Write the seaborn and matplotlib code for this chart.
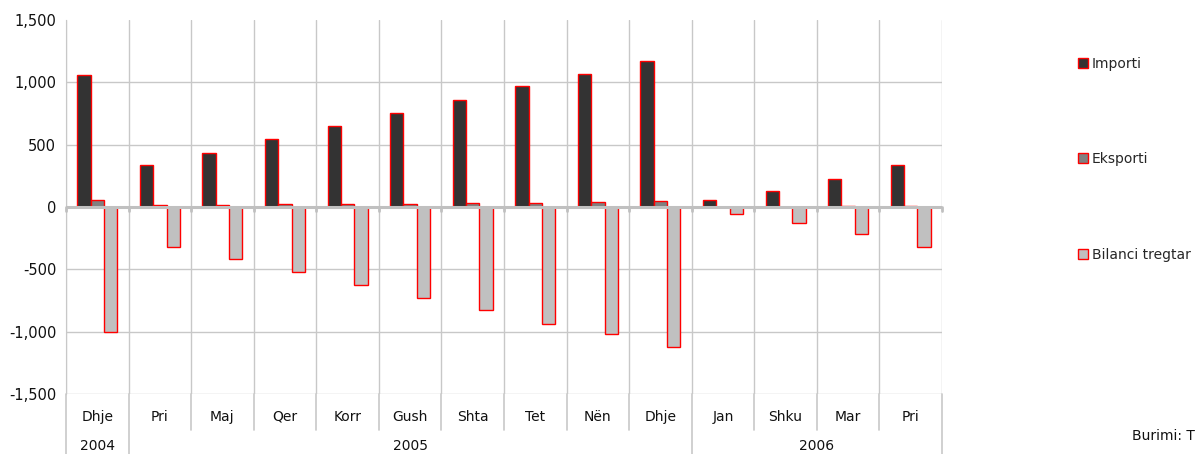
import pandas as pd
import seaborn as sns
import matplotlib.pyplot as plt
from matplotlib.patches import Patch
from matplotlib.ticker import FuncFormatter
import matplotlib.transforms as mtransforms

months = ["Dhje", "Pri", "Maj", "Qer", "Korr", "Gush", "Shta", "Tet", "Nën", "Dhje",
          "Jan", "Shku", "Mar", "Pri"]
years = ["2004", "2005", "2006"]
year_spans = [(0, 0), (1, 9), (10, 13)]
importi = [1061, 335, 437, 542, 651, 755, 859, 973, 1064, 1171, 54, 125, 224, 335]
eksporti = [54, 14, 20, 22, 27, 28, 32, 36, 43, 45, 3, 4, 8, 12]
bilanci = [-1004, -322, -420, -519, -626, -727, -825, -937, -1020, -1126, -58, -128, -218, -320]
series = ["Importi", "Eksporti", "Bilanci tregtar"]
colors = ["#333333", "#808080", "#c0c0c0"]

rows = []
for i in range(len(months)):
    for name, vals in zip(series, [importi, eksporti, bilanci]):
        rows.append({"pos": i, "serie": name, "vlera": vals[i]})
df = pd.DataFrame(rows)

sns.set_style("white")
plt.rcParams["font.family"] = ["DejaVu Sans"]

fig = plt.figure(figsize=(12, 4.54), dpi=100)
ax = fig.add_axes([66 / 1200, 60 / 454, 876 / 1200, 374 / 454])

sns.barplot(data=df, x="pos", y="vlera", hue="serie", hue_order=series,
            palette=colors, width=0.64, gap=0, edgecolor="red", linewidth=1,
            saturation=1, ax=ax, legend=False, zorder=3)

ax.set_xlim(-0.5, len(months) - 0.5)
ax.set_ylim(-1500, 1500)
ax.set_yticks(range(-1500, 1501, 500))
ax.yaxis.set_major_formatter(FuncFormatter(lambda v, p: f"{int(v):,}"))
ax.tick_params(axis="y", labelsize=10.5, length=5, color="#bbbbbb", colors="#111111", pad=2)
ax.set_xticks([])
ax.set_xlabel("")
ax.set_ylabel("")

for s in ["top", "right", "bottom"]:
    ax.spines[s].set_visible(False)
ax.spines["left"].set_color("#c8c8c8")

grid = "#c8c8c8"
for y in range(-1500, 1001, 500):
    if y != 0:
        ax.axhline(y, color=grid, lw=1, zorder=1)
for b in range(len(months) + 1):
    ax.axvline(b - 0.5, color=grid, lw=1, zorder=1)
ax.axhline(0, color="#c0c0c0", lw=2.2, zorder=4)

trans = mtransforms.blended_transform_factory(ax.transData, ax.transAxes)
# small ticks on the zero line
for b in range(len(months) + 1):
    ax.plot([b - 0.5, b - 0.5], [0.5, 0.488], transform=trans, color="#c0c0c0",
            lw=2, clip_on=False, zorder=4)

# category axis below the plot
year_edges = {-0.5, 0.5, 9.5, 13.5}
for b in range(len(months) + 1):
    x = b - 0.5
    y1 = -60 / 374 if x in year_edges else -36 / 374
    ax.plot([x, x], [0, y1], transform=trans, color="#c8c8c8", lw=1.2, clip_on=False)
for i, m in enumerate(months):
    ax.text(i, -23 / 374, m, transform=trans, ha="center", va="center", fontsize=10,
            color="#111111")
for yr, (a, b) in zip(years, year_spans):
    ax.text((a + b) / 2, -52 / 374, yr, transform=trans, ha="center", va="center",
            fontsize=10, color="#111111")

handles = [Patch(facecolor=c, edgecolor="red", lw=1) for c in colors]
fig.legend(handles, series, loc="upper left", bbox_to_anchor=(1078 / 1200, 1 - 57 / 454),
           frameon=False, fontsize=10, handlelength=0.75, handleheight=0.75,
           handletextpad=0.25, labelspacing=5.85, borderpad=0, borderaxespad=0)

fig.text(1132 / 1200, 1 - 436 / 454, "Burimi: T", fontsize=10, va="center", ha="left",
         color="#111111")

fig.savefig("out.png", dpi=100)
